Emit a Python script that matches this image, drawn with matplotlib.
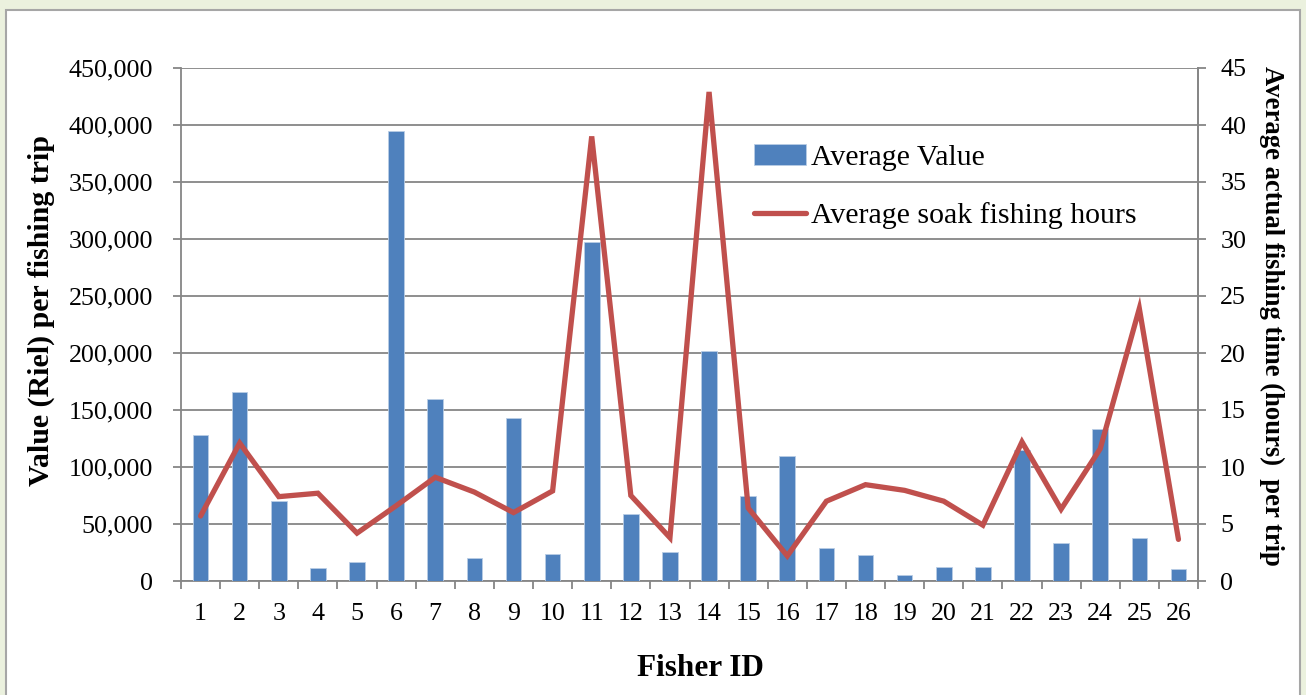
import matplotlib
matplotlib.use("Agg")
import matplotlib.pyplot as plt
from matplotlib.patches import Rectangle
import numpy as np

fisher_ids = [str(i) for i in range(1, 27)]
avg_value = [128000, 166000, 70500, 11500, 16500, 395000, 160000, 20000, 143000, 23500,
             297000, 58500, 25500, 202000, 74500, 110000, 29000, 22500, 5500, 12300,
             12000, 115000, 33500, 133500, 37500, 10500]
avg_hours = [5.7, 12.1, 7.4, 7.7, 4.2, 6.6, 9.1, 7.8, 6.0, 7.9,
             39.0, 7.5, 3.8, 42.9, 6.4, 2.2, 7.0, 8.45, 7.95, 7.0,
             4.9, 12.2, 6.3, 11.6, 23.9, 3.65]
left_ticks = [0, 50000, 100000, 150000, 200000, 250000, 300000, 350000, 400000, 450000]
right_ticks = [0, 5, 10, 15, 20, 25, 30, 35, 40, 45]

plt.rcParams['font.family'] = ['Liberation Serif', 'DejaVu Serif']
W, H = 1306, 695
fig = plt.figure(figsize=(W / 100, H / 100), dpi=100)
fig.patch.set_facecolor('#EBF1DE')
frame = Rectangle((6 / W, -0.05), (1300 - 6) / W, 1 - 10 / H + 0.05,
                  transform=fig.transFigure, facecolor='white',
                  edgecolor='#A6A6A6', linewidth=1.5, zorder=-10)
fig.add_artist(frame)

ax = fig.add_axes([181 / W, 1 - 581 / H, (1198 - 181) / W, (581 - 68) / H])
ax.set_facecolor('none')
x = np.arange(1, 27)
grid_c = '#868686'

bars = ax.bar(x, avg_value, width=0.4, color='#4F81BD', edgecolor='#B9CDE5',
              linewidth=0.6, zorder=3, label='Average Value')
ax.set_ylim(0, 450000)
ax.set_xlim(0.5, 26.5)
ax.set_yticks(left_ticks)
ax.set_yticklabels([f"{v:,}" for v in left_ticks])
ax.yaxis.grid(True, color=grid_c, linewidth=1.3, zorder=0)
ax.set_axisbelow(True)
ax.set_xticks(x)
ax.set_xticklabels(fisher_ids)
ax.set_xticks(np.arange(0.5, 27, 1), minor=True)
ax.tick_params(axis='x', which='major', length=0, pad=16, labelsize=18.7)
ax.tick_params(axis='x', which='minor', length=6, width=1.3, color=grid_c, direction='out')
ax.tick_params(axis='y', length=6, width=1.3, color=grid_c, pad=14, labelsize=18.7)
ax.spines['top'].set_visible(False)
for s in ['left', 'bottom', 'right']:
    ax.spines[s].set_color(grid_c)
    ax.spines[s].set_linewidth(1.3)

ax2 = ax.twinx()
line, = ax2.plot(x, avg_hours, color='#C0504D', linewidth=3.8, zorder=4,
                 solid_joinstyle='miter', solid_capstyle='round',
                 label='Average soak fishing hours')
ax2.set_ylim(0, 45)
ax2.set_yticks(right_ticks)
ax2.set_yticklabels([str(v) for v in right_ticks])
ax2.tick_params(axis='y', length=6, width=1.3, color=grid_c, pad=10, labelsize=18.7)
for s in ['top', 'left', 'bottom']:
    ax2.spines[s].set_visible(False)
ax2.spines['right'].set_color(grid_c)
ax2.spines['right'].set_linewidth(1.3)

fig.text(41 / W, 1 - 310 / H, 'Value (Riel) per fishing trip', rotation=90,
         ha='center', va='center', fontsize=21.5, fontweight='bold')
fig.text(1272 / W, 1 - 316 / H, 'Average actual fishing time (hours)  per trip',
         rotation=270, ha='center', va='center', fontsize=19.2, fontweight='bold')
fig.text(700 / W, 1 - 668 / H, 'Fisher ID', ha='center', va='center',
         fontsize=22.5, fontweight='bold')

leg = ax2.legend([bars, line], ['Average Value', 'Average soak fishing hours'],
                 loc='upper left', bbox_to_anchor=(754 / W, 1 - 144 / H),
                 bbox_transform=fig.transFigure, frameon=False, fontsize=21.5,
                 handlelength=1.75, handletextpad=0.17, labelspacing=1.05,
                 borderpad=0, borderaxespad=0)

fig.savefig('out.png', dpi=100, facecolor=fig.get_facecolor())
